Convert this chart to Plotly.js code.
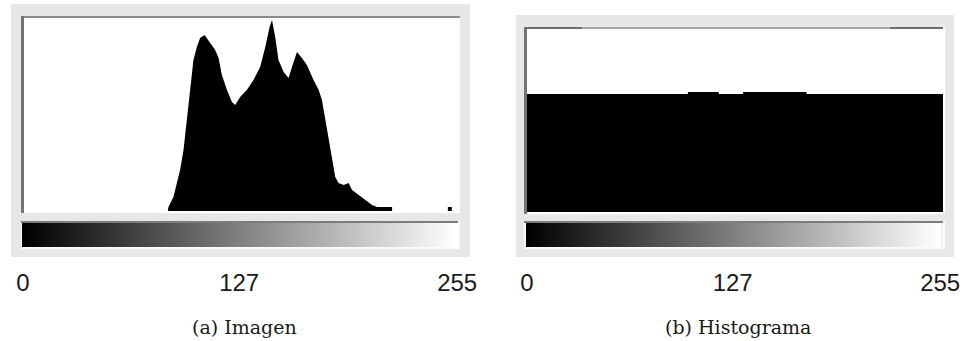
<!DOCTYPE html>
<html>
<head>
<meta charset="utf-8">
<script src="https://cdn.plot.ly/plotly-3.0.1.min.js"></script>
<style>html,body{margin:0;padding:0;background:#fff;}#chart{width:967px;height:341px;}</style>
</head>
<body>
<div id="chart"></div>
<script>
// ---- data ----
// (a) Imagen: grey-level histogram (levels, relative counts)
var levelsA = [85.2, 85.6, 88.5, 90.5, 92.4, 94.4, 96.3, 98.3, 100.2, 102.2, 104.1, 106.7, 110, 112.9, 114.9, 116.8, 119.8, 122.7, 124.6, 127.5, 131.4, 135.3, 139.2, 142.2, 144.7, 146.1, 148, 149.9, 152.9, 155.8, 157.8, 160.7, 163.6, 166.5, 170.4, 173.4, 175.3, 177.3, 179.2, 181.1, 183.1, 185, 188, 190.9, 192.9, 196.8, 200.7, 204.6, 207.5, 216.3, 216.3, 248.9, 248.9, 251.2, 251.2];
var countsA = [0, 4, 14, 28, 41, 61, 91, 118, 151, 164, 173, 176, 168, 161, 153, 136, 121, 109, 106, 114, 121, 131, 144, 164, 184, 191, 174, 151, 139, 133, 144, 159, 153, 146, 131, 121, 111, 91, 71, 54, 34, 28, 26, 28, 21, 16, 11, 6, 4, 4, 0, 0, 4, 4, 0];
// (b) Histograma: equalised histogram (step levels, relative counts)
var levelsB = [0, 99, 118, 133, 172, 256];
var countsB = [118, 120, 118, 120, 118, 118];
// grey ramp and tick labels
var greyLevels = [];
for (var i = 0; i < 256; i++) greyLevels.push(i);
var tickVals = [0, 127, 255];
var tickText = ['0', '127', '255'];
var captions = ['(a) Imagen', '(b) Histograma'];

// ---- layout helpers (pixel -> paper) ----
var W = 967, H = 341;
function px(x) { return x / W; }
function py(y) { return 1 - y / H; }
function rect(x0, y0, x1, y1, color, layer) {
  return {type: 'rect', xref: 'paper', yref: 'paper', x0: px(x0), x1: px(x1), y0: py(y1), y1: py(y0),
          fillcolor: color, line: {width: 0}, layer: layer || 'below'};
}

var traces = [
  {type: 'scatter', x: levelsA, y: countsA, xaxis: 'x', yaxis: 'y', mode: 'lines',
   line: {width: 0, color: '#000'}, fill: 'tozeroy', fillcolor: '#000', hoverinfo: 'skip'},
  {type: 'scatter', x: levelsB, y: countsB, xaxis: 'x2', yaxis: 'y2', mode: 'lines',
   line: {width: 0, color: '#000', shape: 'hv'}, fill: 'tozeroy', fillcolor: '#000', hoverinfo: 'skip'},
  {type: 'heatmap', x: greyLevels, y: [0], z: [greyLevels], xaxis: 'x3', yaxis: 'y3',
   colorscale: [[0, '#000000'], [1, '#ffffff']], showscale: false, zmin: 0, zmax: 255, hoverinfo: 'skip'},
  {type: 'heatmap', x: greyLevels, y: [0], z: [greyLevels], xaxis: 'x4', yaxis: 'y4',
   colorscale: [[0, '#000000'], [1, '#ffffff']], showscale: false, zmin: 0, zmax: 255, hoverinfo: 'skip'}
];

var hidden = {showgrid: false, zeroline: false, showline: false, showticklabels: false, ticks: '', fixedrange: true};
function ax(extra) { var o = {}; for (var k in hidden) o[k] = hidden[k]; for (var k2 in extra) o[k2] = extra[k2]; return o; }
var tickFont = {family: 'Liberation Sans, Arial, sans-serif', size: 24, color: '#1a1a1a'};

var layout = {
  width: W, height: H,
  margin: {l: 0, r: 0, t: 0, b: 0},
  paper_bgcolor: '#ffffff', plot_bgcolor: 'rgba(0,0,0,0)',
  showlegend: false,
  xaxis: ax({domain: [px(22), px(460)], range: [0, 256], anchor: 'y'}),
  yaxis: ax({domain: [py(211), py(17)], range: [0, 194], anchor: 'x'}),
  xaxis2: ax({domain: [px(527), px(943)], range: [0, 256], anchor: 'y2'}),
  yaxis2: ax({domain: [py(212), py(27)], range: [0, 185], anchor: 'x2'}),
  xaxis3: ax({domain: [px(22), px(458)], range: [-0.5, 255.5], anchor: 'y3',
              showticklabels: true, tickvals: tickVals, ticktext: tickText, tickfont: tickFont,
              ticklabelstandoff: 19}),
  yaxis3: ax({domain: [py(247), py(223)], anchor: 'x3'}),
  xaxis4: ax({domain: [px(526), px(941)], range: [-0.5, 255.5], anchor: 'y4',
              showticklabels: true, tickvals: tickVals, ticktext: tickText, tickfont: tickFont,
              ticklabelstandoff: 19}),
  yaxis4: ax({domain: [py(247), py(223)], anchor: 'x4'}),
  shapes: [
    // left panel frame
    rect(11, 4, 470, 257, '#e7e7e7'),
    rect(21, 16, 460, 213, '#ffffff'),
    rect(21, 221, 460, 249, '#fbfbfb'),
    rect(21, 16, 460, 18, '#8c8c8c', 'above'),
    rect(21, 16, 24, 213, '#747474', 'above'),
    rect(21, 221, 458, 223, '#7c7c7c', 'above'),
    // right panel frame
    rect(516, 15, 954, 257, '#e7e7e7'),
    rect(524, 27, 945, 214, '#ffffff'),
    rect(524, 221, 945, 249, '#fbfbfb'),
    rect(941, 223, 943, 247, '#f4f4f4'),
    rect(524, 27, 943, 29, '#a3a3a3', 'above'),
    rect(524, 27, 582, 29, '#6e6e6e', 'above'),
    rect(890, 27, 943, 29, '#6e6e6e', 'above'),
    rect(524, 27, 527, 214, '#747474', 'above'),
    rect(524, 221, 943, 223, '#7c7c7c', 'above')
  ],
  annotations: [
    {text: captions[0], xref: 'paper', yref: 'paper', x: px(244), y: py(327), xanchor: 'center', yanchor: 'middle',
     showarrow: false, font: {family: 'DejaVu Serif, Liberation Serif, serif', size: 19, color: '#1a1a1a'}},
    {text: captions[1], xref: 'paper', yref: 'paper', x: px(738), y: py(327), xanchor: 'center', yanchor: 'middle',
     showarrow: false, font: {family: 'DejaVu Serif, Liberation Serif, serif', size: 19, color: '#1a1a1a'}}
  ]
};

Plotly.newPlot('chart', traces, layout, {staticPlot: true, displayModeBar: false});
</script>
</body>
</html>
